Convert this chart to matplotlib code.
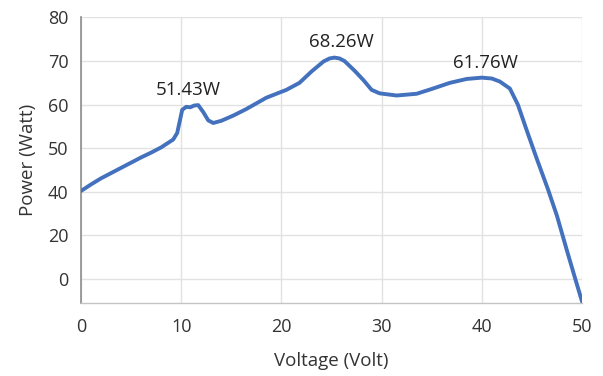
import numpy as np
import matplotlib
matplotlib.use("Agg")
import matplotlib.pyplot as plt

plt.rcParams['font.family'] = ['Open Sans', 'DejaVu Sans']

voltage = [0, 1, 2, 3, 4, 5, 6, 7, 8, 9.2, 9.6, 10.1, 10.5, 10.9, 11.3, 11.7,
           12.2, 12.7, 13.2, 14.0, 15.2, 16.5, 18.5, 20.5, 21.8, 23.0, 24.2,
           24.8, 25.3, 25.8, 26.3, 27.3, 28.2, 29.0, 29.8, 31.5, 33.5, 35.0,
           36.8, 38.5, 40.0, 41.0, 41.8, 42.8, 43.6, 44.5, 45.5, 46.6, 47.5,
           48.5, 49.3, 50.0]
power = [40.2, 41.7, 43.1, 44.3, 45.5, 46.7, 47.9, 49.0, 50.2, 52.0, 53.5,
         58.8, 59.5, 59.4, 59.8, 59.9, 58.3, 56.4, 55.8, 56.3, 57.5, 59.0,
         61.6, 63.4, 65.0, 67.6, 69.9, 70.6, 70.8, 70.6, 70.0, 67.8, 65.6,
         63.4, 62.6, 62.1, 62.5, 63.6, 65.0, 65.9, 66.2, 66.0, 65.3, 63.7,
         60.0, 54.0, 47.5, 40.6, 29.0, 13.0, 0.5, -10.3]

peak_labels = ['51.43W', '68.26W', '61.76W']
label_x = [10.7, 26.0, 40.4]
label_y = [63.4, 74.4, 69.6]

x_ticks = [0, 10, 20, 30, 40, 50]
y_ticks = [0, 20, 40, 50, 60, 70, 80]


# axis below 40 W is squeezed to 20 W per grid step
def fwd(y):
    y = np.asarray(y, dtype=float)
    return np.where(y < 40, y / 2 + 20, y)


def inv(p):
    p = np.asarray(p, dtype=float)
    return np.where(p < 40, (p - 20) * 2, p)


fig = plt.figure(figsize=(6.03, 3.76), dpi=100)
ax = fig.add_axes([0.1343, 0.1941, 0.8309, 0.7594])
ax.set_yscale('function', functions=(fwd, inv))

ax.plot(voltage, power, color='#4371be', linewidth=2.8, solid_capstyle='round',
        solid_joinstyle='round', zorder=3)

for lab, lx, ly in zip(peak_labels, label_x, label_y):
    ax.text(lx, ly, lab, ha='center', va='center', fontsize=13.5, color='#222222')

ax.set_xlim(0, 50)
ax.set_ylim(-11, 80)
ax.set_xticks(x_ticks)
ax.set_yticks(y_ticks)
ax.set_yticklabels([str(t) for t in y_ticks])
ax.tick_params(axis='both', length=0, labelsize=13, colors='#333333')
ax.tick_params(axis='x', pad=11)
ax.tick_params(axis='y', pad=9)
ax.grid(True, color='#e2e2e2', linewidth=1)
ax.set_axisbelow(True)

for s in ['top', 'right']:
    ax.spines[s].set_visible(False)
ax.spines['left'].set_color('#8c8c8c')
ax.spines['left'].set_linewidth(1.2)
ax.spines['bottom'].set_color('#c4c4c4')
ax.spines['bottom'].set_linewidth(1)

ax.set_xlabel('Voltage (Volt)', fontsize=13.5, color='#333333', labelpad=11)
ax.set_ylabel('Power (Watt)', fontsize=13.5, color='#333333', labelpad=8)

fig.savefig('out.png', dpi=100)
